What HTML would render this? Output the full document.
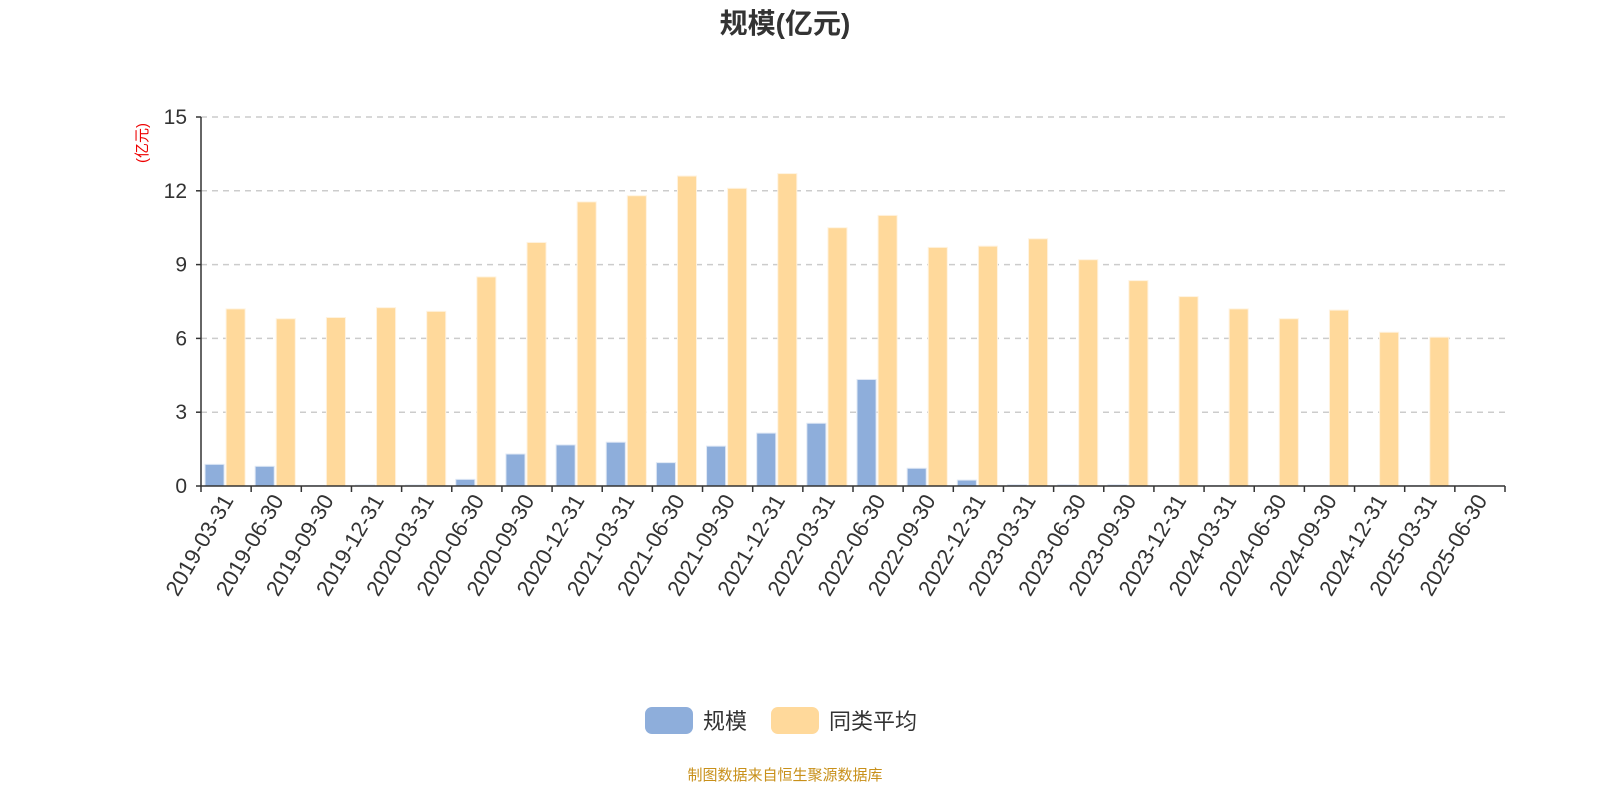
<!DOCTYPE html>
<html><head><meta charset="utf-8"><style>
body{margin:0;background:#fff;}
svg{display:block;font-family:"Liberation Sans","Noto Sans CJK SC",sans-serif;}
</style></head><body>
<svg id="c" width="1600" height="800">
<text x="785" y="33" text-anchor="middle" font-size="28" font-weight="bold" fill="#333">规模(亿元)</text>
<text transform="translate(147,143) rotate(-90)" text-anchor="middle" font-size="15" fill="#e00">(亿元)</text>
<g id="grid"></g><g id="bars"></g><g id="axes"></g>
<g>
<g><rect x="645" y="707" width="48" height="27" rx="7" fill="#8eaedb"/><text x="703" y="729" font-size="22" fill="#333">规模</text></g>
<g><rect x="771" y="707" width="48" height="27" rx="7" fill="#ffd99b"/><text x="829" y="729" font-size="22" fill="#333">同类平均</text></g>
</g>
<text x="785" y="780" text-anchor="middle" font-size="15" fill="#c8901a">制图数据来自恒生聚源数据库</text>
</svg>
<script>
const categories=["2019-03-31","2019-06-30","2019-09-30","2019-12-31","2020-03-31","2020-06-30","2020-09-30","2020-12-31","2021-03-31","2021-06-30","2021-09-30","2021-12-31","2022-03-31","2022-06-30","2022-09-30","2022-12-31","2023-03-31","2023-06-30","2023-09-30","2023-12-31","2024-03-31","2024-06-30","2024-09-30","2024-12-31","2025-03-31","2025-06-30"];
const scaleValues=[0.88,0.8,0.02,0.04,0.04,0.27,1.3,1.67,1.78,0.95,1.62,2.15,2.55,4.33,0.72,0.24,0.05,0.05,0.05,0.02,0.02,0.02,0.02,0.02,0.02,0.02];
const avgValues=[7.2,6.8,6.85,7.25,7.1,8.5,9.9,11.55,11.8,12.6,12.1,12.7,10.5,11.0,9.7,9.75,10.05,9.2,8.35,7.7,7.2,6.8,7.15,6.25,6.05,0];
const yTicks=[0,3,6,9,12,15];
const NS="http://www.w3.org/2000/svg";
const X0=201,X1=1505,Y0=486,Y1=117,YMAX=15;
const band=(X1-X0)/categories.length;
const y=v=>Y0-(v/YMAX)*(Y0-Y1);
const xb=i=>X0+i*band;
function mk(t,a,p){const e=document.createElementNS(NS,t);for(const k in a)e.setAttribute(k,a[k]);p.appendChild(e);return e;}
const grid=document.getElementById('grid'),bars=document.getElementById('bars'),axes=document.getElementById('axes');
yTicks.forEach(v=>{
  if(v>0){const l=mk('line',{x1:X0,x2:X1,y1:y(v),y2:y(v),stroke:'#ccc','stroke-width':1.5,'stroke-dasharray':'6,5'},grid);
  
  }
  const t=mk('text',{x:X0-14,y:y(v)+7,'text-anchor':'end','font-size':21,fill:'#333'},axes);t.textContent=v;
  
  
  mk('line',{x1:X0-5,x2:X0,y1:y(v),y2:y(v),stroke:'#333','stroke-width':1.5},axes);
});
const bw=band*0.38;
categories.forEach((c,i)=>{
  const b=mk('rect',{x:xb(i)+band*0.08,y:y(scaleValues[i]),width:bw,height:Y0-y(scaleValues[i]),fill:'#8eaedb',stroke:'#dfe8f5','stroke-width':1},bars);
  
  
  if(avgValues[i]>0){const o=mk('rect',{x:xb(i)+band*0.08+bw+2,y:y(avgValues[i]),width:bw,height:Y0-y(avgValues[i]),fill:'#ffd99b',stroke:'#fff3e0','stroke-width':1},bars);
  
  }
  const tx=xb(i)+band/2;
  const t=mk('text',{transform:`translate(${tx+8},${Y0+14}) rotate(-60)`,'text-anchor':'end','font-size':22,fill:'#333'},axes);t.textContent=c;
  
  
});
for(let i=0;i<=categories.length;i++)mk('line',{x1:xb(i),x2:xb(i),y1:Y0,y2:Y0+6,stroke:'#333','stroke-width':1.5},axes);
const xa=mk('line',{x1:X0,x2:X1,y1:Y0,y2:Y0,stroke:'#333','stroke-width':1.5},axes);


const ya=mk('line',{x1:X0,x2:X0,y1:Y1,y2:Y0,stroke:'#333','stroke-width':1.5},axes);


</script>
</body></html>
